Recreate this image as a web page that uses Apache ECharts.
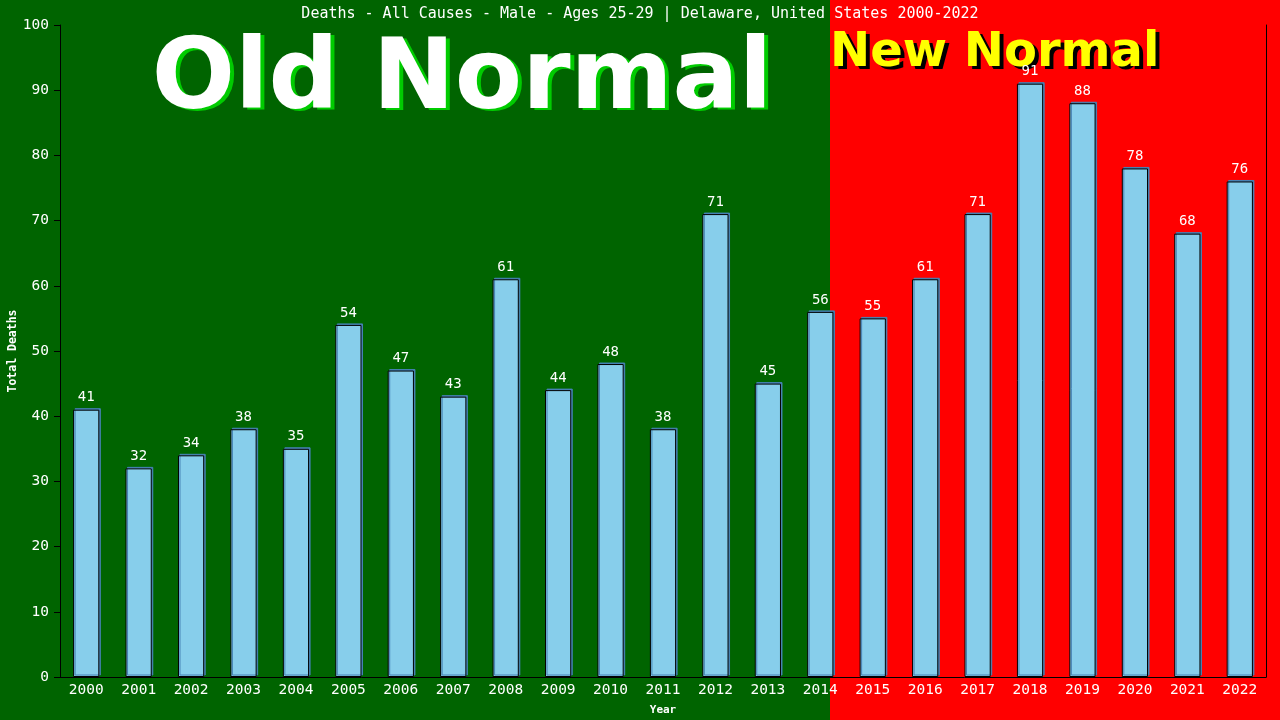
<!DOCTYPE html>
<html><head><meta charset="utf-8">
<script src="https://cdn.jsdelivr.net/npm/echarts@6/dist/echarts.min.js"></script>
<style>html,body{margin:0;padding:0;background:#ff0000}#c{width:1280px;height:720px}</style>
</head><body><div id="c"></div>
<script>
const years = ['2000','2001','2002','2003','2004','2005','2006','2007','2008','2009','2010','2011','2012','2013','2014','2015','2016','2017','2018','2019','2020','2021','2022'];
const deaths = [41,32,34,38,35,54,47,43,61,44,48,38,71,45,56,55,61,71,91,88,78,68,76];
const yTicks = [0,10,20,30,40,50,60,70,80,90,100];
const titleText = 'Deaths - All Causes - Male - Ages 25-29 | Delaware, United States 2000-2022';

const mono = "'DejaVu Sans Mono', 'Liberation Mono', monospace";
const chart = echarts.init(document.getElementById('c'));
chart.setOption({
  backgroundColor: '#ff0000',
  animation: false,
  graphic: [
    {type:'rect', z:-10, silent:true, shape:{x:0,y:0,width:830,height:720}, style:{fill:'#006400'}},
    {type:'text', z:1, style:{x:466, y:134, text:'Old Normal', textAlign:'center', textVerticalAlign:'bottom', font:"bold 98px 'DejaVu Sans'", fill:'#00cc00'}},
    {type:'text', z:2, style:{x:462, y:132, text:'Old Normal', textAlign:'center', textVerticalAlign:'bottom', font:"bold 98px 'DejaVu Sans'", fill:'#ffffff'}},
    {type:'text', z:1, style:{x:834, y:81, text:'New Normal', textAlign:'left', textVerticalAlign:'bottom', font:"bold 48px 'DejaVu Sans'", fill:'#000000'}},
    {type:'text', z:2, style:{x:830, y:78, text:'New Normal', textAlign:'left', textVerticalAlign:'bottom', font:"bold 48px 'DejaVu Sans'", fill:'#ffff00'}}
  ],
  title: {
    text: titleText, left: 'center', top: 2,
    textStyle: {color:'#ffffff', fontFamily: mono, fontSize: 15, fontWeight: 'normal'}
  },
  grid: {left:60, right:14, top:25, bottom:43, outerBoundsMode:'none', containLabel:false},
  xAxis: {
    type:'category', data: years,
    name:'Year', nameLocation:'middle', nameGap:28, nameMoveOverlap:false,
    nameTextStyle:{color:'#ffffff', fontFamily:mono, fontSize:11, fontWeight:'bold'},
    axisLine:{lineStyle:{color:'#000000', width:1}},
    axisTick:{show:false},
    axisLabel:{color:'#ffffff', fontFamily:mono, fontSize:14.5, margin:6, interval:0}
  },
  yAxis: [{
    type:'value', min:0, max:100, interval:10,
    name:'Total Deaths', nameLocation:'middle', nameGap:41, nameRotate:90, nameMoveOverlap:false,
    nameTextStyle:{color:'#ffffff', fontFamily:mono, fontSize:11.5, fontWeight:'bold'},
    axisLine:{show:true, lineStyle:{color:'#000000', width:1}},
    axisTick:{show:true, length:6, lineStyle:{color:'#000000'}},
    axisLabel:{color:'#ffffff', fontFamily:mono, fontSize:14.5, margin:11,
      formatter: v => yTicks.includes(v) ? String(v) : ''},
    splitLine:{show:false}
  },{
    type:'value', min:0, max:100, interval:10, position:'right',
    axisLine:{show:true, lineStyle:{color:'#000000', width:1}},
    axisTick:{show:false}, axisLabel:{show:false}, splitLine:{show:false}
  }],
  series: [{
    type:'bar', data: deaths, barWidth:'50%',
    itemStyle:{color:'#87ceeb', borderColor:'#000000', borderWidth:1,
      shadowColor:'#4682b4', shadowBlur:0, shadowOffsetX:1.5, shadowOffsetY:-1.5},
    label:{show:true, position:'top', distance:5, color:'#ffffff', fontFamily:mono, fontSize:14}
  }]
});
</script></body></html>
